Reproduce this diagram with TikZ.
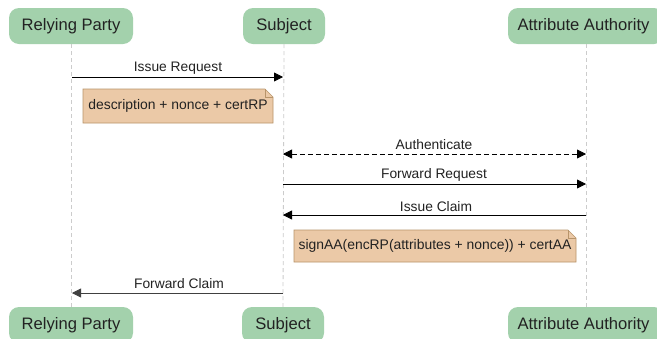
\documentclass[tikz,border=0pt]{standalone}
\usepackage{fontspec}
\setmainfont{Liberation Sans}
\usetikzlibrary{arrows.meta,shapes.misc}
\definecolor{actfill}{HTML}{A3D1AC}
\definecolor{notefill}{HTML}{EBC9A7}
\definecolor{notedraw}{HTML}{B8946A}
\definecolor{lifeline}{HTML}{CCCCCC}
\definecolor{txt}{HTML}{222222}
\tikzset{
  actor/.style={fill=actfill, draw=none, rounded corners=10pt, minimum height=36pt, inner sep=0pt, text=txt, font=\fontsize{16.6}{18}\selectfont, anchor=center},
  msg/.style={draw=black, line width=0.8pt, -{Triangle[length=9pt,width=9pt]}},
  msgtxt/.style={font=\fontsize{13.8}{15}\selectfont, text=txt, inner sep=0pt},
  notetxt/.style={font=\fontsize{13.9}{15}\selectfont, text=txt, inner sep=0pt},
  life/.style={draw=lifeline, dashed, line width=0.8pt, dash pattern=on 4pt off 3pt},
}
\begin{document}
\begin{tikzpicture}[x=1pt,y=-1pt]
\clip (0,0) rectangle (657,338);
\fill[white] (0,0) rectangle (657,338);
% actors top
\node[actor, minimum width=124pt] (rpT) at (71,26) {Relying Party};
\node[actor, minimum width=82pt] (sT) at (284,26) {Subject};
\node[actor, minimum width=156pt] (aaT) at (586,26) {\hspace*{-5pt}Attribute Authority};
% actors bottom
\node[actor, minimum width=124pt] (rpB) at (71,325) {Relying Party};
\node[actor, minimum width=82pt] (sB) at (283,325) {Subject};
\node[actor, minimum width=156pt] (aaB) at (586,325) {\hspace*{-5pt}Attribute Authority};
% lifelines
\draw[life] (rpT.south) -- (rpB.north);
\draw[life] (sT.south) -- (sB.north);
\draw[life] (aaT.south) -- (aaB.north);
% message coordinates
\coordinate (m1a) at (72,77); \coordinate (m1b) at (283,77);
\coordinate (m2a) at (283,154); \coordinate (m2b) at (586,154);
\coordinate (m3a) at (283,184); \coordinate (m3b) at (586,184);
\coordinate (m4a) at (586,215); \coordinate (m4b) at (283,215);
\coordinate (m5a) at (283,293); \coordinate (m5b) at (72,293);
% messages
\draw[msg] (m1a) -- (m1b);
\node[msgtxt] (l1) at (178,68) {Issue Request};
\draw[msg, {Triangle[length=9pt,width=9pt]}-{Triangle[length=9pt,width=9pt]}, dash pattern=on 5pt off 3pt] (m2a) -- (m2b);
\node[msgtxt] (l2) at (434,145) {Authenticate};
\draw[msg] (m3a) -- (m3b);
\node[msgtxt] (l3) at (434,175) {Forward Request};
\draw[msg] (m4a) -- (m4b);
\node[msgtxt] (l4) at (436,207) {Issue Claim};
\draw[msg, draw=black!75] (m5a) -- (m5b);
\node[msgtxt] (l5) at (179,284) {Forward Claim};
% notes
\filldraw[fill=notefill, draw=notedraw, line width=0.7pt] (83,89) -- (265,89) -- (273,97) -- (273,123) -- (83,123) -- cycle;
\draw[draw=notedraw, line width=0.7pt] (265,89) -- (265,97) -- (273,97);
\node[notetxt] (n1) at (178,106) {description + nonce + certRP};
\filldraw[fill=notefill, draw=notedraw, line width=0.7pt] (294,230) -- (568,230) -- (576,238) -- (576,262) -- (294,262) -- cycle;
\draw[draw=notedraw, line width=0.7pt] (568,230) -- (568,238) -- (576,238);
\node[notetxt] (n2) at (435,246) {signAA(encRP(attributes + nonce)) + certAA};
\end{tikzpicture}
\end{document}
